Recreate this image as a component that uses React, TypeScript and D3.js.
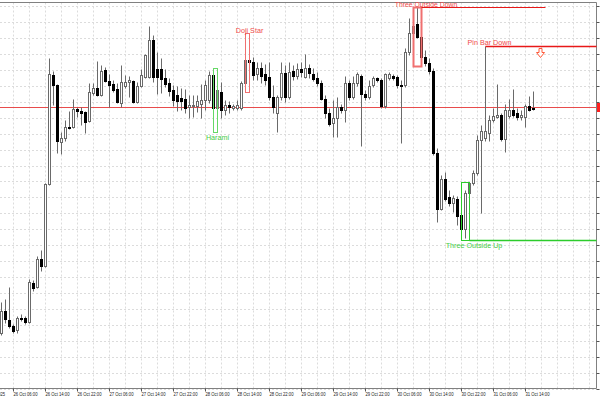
import React from "react";
import * as d3 from "d3";

// ---- data (H1 candles, 26 Oct 03:00 .. 31 Oct 16:00) ----
const opens = [67,89,80,74,70,82,82,78,117,113,
141,134,216,325,315,258,262,273,273,291,
289,288,279,307,312,305,330,319,316,311,
297,314,318,319,298,314,323,323,360,331,
331,322,317,310,305,302,301,293,294,294,
296,300,300,325,292,308,290,294.5,292,292,
292,317,340,338,326,332,326,323,303,287,
303,327,303,329,324,331,323,332,326,322,
317,301,287,277,282,293,290,317,303,317,
324,306,303,315,322,320,294,322,324,323,
315,315,348,367,376,363,343,337,329,247,
191,221,203,197,201,185,171,207,217,227,
260,262,267,280,283,285,261,284,290,287,
283,283,294,292];
const highs = [98,101,113,76,84,86,84,121,120,144,
150,217,342,329,316,268,280,289,301,293,
293,289,317,317,339,335,333,326,320,317,
335,325,324,320,318,331,346,374,365,348,
342,331,322,315,314,312,311,305,305,305,
316,320,329,332,318,318,300,299,296,300,
319,348,367,343,338,338,336,338,315,305,
338,335,338,335,337,338,346,336,332,328,
320,305,292,300,303,296,324,320,324,328,
326,310,320,324,323,322,327,328,326,325,
320,352,382,382,393,365,350,342,332,252,
225,228,210,205,204,195,210,218,230,265,
275,354,285,292,316,287,296,301,311,292,
290,296,304,309];
const lows = [65,77,72,67,67,79,76,77,109,112,
129,133,215,295,247,246,259,271,272,283,
275,267,278,305,304,304,318,293,308,297,
293,312,303,297,297,313,322,322,318,306,
307,313,304,294,289,290,287,282,283,288,
282,290,297,290,268,282,285,287,290,290,
290,308,334,320,320,317,315,300,287,268,
300,298,301,320,321,323,322,322,319,314,
300,282,274,263,263,287,278,300,301,314,
254,300,301,313,318,292,292,320,320,312,
257,313,345,365,362,334,334,326,245,178,
190,199,194,188,175,160,162,205,215,225,
187,259,259,278,282,259,248,282,283,280,
280,273,289,290];
const closes = [89,81,74,69,82,81,78,118,112,141,
134,216,326,315,259,262,273,272,291,289,
287,278,308,312,305,329,319,315,310,298,
318,318,320,298,314,325,345,360,323,323,
321,316,309,300,299,299.5,292,295,295,299,
300,315,325,292,310,290,295,293,294,295,
317,340,338,325,332,324,320,303,293,303,
327,303,328,324,331,328,332,327,321,317,
301,287,276,282,293,290,317,303,317,326,
306,303,314,322,320,294,326,326,322,315,
314,348,367,374,363,343,337,329,247,191,
221,201,197,202,184,171,207,217,227,260,
269,269,280,284,285,261,290,290,285,283,
285,294,290,291.5];

const timeLabels = [
  "26 Oct 06:00","26 Oct 14:00","26 Oct 22:00","27 Oct 06:00","27 Oct 14:00",
  "27 Oct 22:00","28 Oct 06:00","28 Oct 14:00","28 Oct 22:00","29 Oct 06:00",
  "29 Oct 14:00","29 Oct 22:00","30 Oct 06:00","30 Oct 14:00","30 Oct 22:00",
  "31 Oct 06:00","31 Oct 14:00"];
const firstLabel = "26 Oct 2025";
const bidPrice = 293;

const patternNames = ["Harami", "Doji Star", "Three Outside Down", "Three Outside Up"];
const patternStart = [53, 61, 103, 115];
const patternEnd = [54, 62, 105, 117];
const patternBull = [true, false, false, true];
const pinBarName = "Pin Bar Down";
const pinBarIndex = 121;

const W = 600, H = 400;
const RIGHT = 596.5, TOP = 2.5, BOTTOM = 388.5;

export default function App() {
  const n = opens.length;
  const x = d3.scaleLinear().domain([0, 133]).range([1.5, 533.5]);
  const y = d3.scaleLinear().domain([12, 398]).range([388, 2]);
  const py = (v: number) => Math.round(y(v)) + 0.5;

  const priceTicks = d3.range(394, 10, -15.95);
  const gridIdx = d3.range(3, 150, 4).filter((i) => x(i) < RIGHT);
  const labelIdx = timeLabels.map((_, k) => 3 + 8 * k);

  const wick = "#6a6a6a";
  const red = "#e81818";
  const redLight = "#f07070";
  const green = "#2ccc2c";
  const greenLight = "#66d866";
  const font = "'Liberation Sans', Arial, sans-serif";

  const pats = patternNames.map((name, k) => {
    const s = patternStart[k], e = patternEnd[k];
    const hi = d3.max(d3.range(s, e + 1), (i) => highs[i]) as number;
    const lo = d3.min(d3.range(s, e + 1), (i) => lows[i]) as number;
    return { name, s, e, hi, lo, bull: patternBull[k] };
  });

  return (
    <svg width={W} height={H} style={{ position: "absolute", left: 0, top: 0, background: "#fff" }}
      fontFamily={font}>
      <rect x={0} y={0} width={W} height={H} fill="#fff" />
      {/* grid */}
      {priceTicks.map((v, k) => (
        <line key={"hg" + k} x1={0} x2={RIGHT} y1={py(v)} y2={py(v)} stroke="#dcdcdc" strokeDasharray="2,2" />
      ))}
      {gridIdx.map((i) => (
        <line key={"vg" + i} x1={Math.floor(x(i)) + 0.5} x2={Math.floor(x(i)) + 0.5} y1={TOP} y2={BOTTOM}
          stroke="#dcdcdc" strokeDasharray="2,2" />
      ))}
      {/* bid line */}
      <line x1={0} x2={RIGHT} y1={py(bidPrice)} y2={py(bidPrice)} stroke="#e84c4c" />

      {/* frame */}
      <line x1={0} x2={RIGHT} y1={TOP} y2={TOP} stroke="#808080" />
      <line x1={0} x2={RIGHT} y1={BOTTOM} y2={BOTTOM} stroke="#808080" />
      <line x1={RIGHT} x2={RIGHT} y1={TOP} y2={BOTTOM} stroke="#808080" />

      {/* candles */}
      {d3.range(n).map((i) => {
        const cx = Math.floor(x(i)) + 0.5;
        const o = opens[i], c = closes[i];
        const yh = py(highs[i]), yl = py(lows[i]);
        const top = py(Math.max(o, c)), bot = py(Math.min(o, c));
        const bull = c >= o;
        return (
          <g key={"c" + i}>
            <line x1={cx} x2={cx} y1={yh} y2={yl} stroke={wick} />
            {bull ? (
              <rect x={cx - 1} y={top} width={2} height={Math.max(bot - top, 0)} fill="#fff" stroke={wick} />
            ) : (
              <rect x={cx - 1.5} y={top - 0.5} width={3} height={Math.max(bot - top, 0) + 1} fill="#000" />
            )}
          </g>
        );
      })}

      {/* pattern boxes and labels */}
      {pats.map((p, k) => {
        const x0 = Math.floor(x(p.s)) + 0.5, x1 = Math.floor(x(p.e)) + 0.5;
        const yt = py(p.hi), yb = py(p.lo);
        const three = p.e - p.s >= 2;
        const boxCol = p.bull ? greenLight : redLight;
        const tx = x1 + (three ? 4.5 : 0);
        return (
          <g key={"p" + k}>
            <rect x={x0} y={yt} width={x1 - x0} height={yb - yt} fill="none" stroke={three ? (p.bull ? green : redLight) : boxCol}
              strokeWidth={three && !p.bull ? 2 : 1} />
            {three && !p.bull && (
              <line x1={x1} x2={x(136)} y1={yt} y2={yt} stroke={red} />
            )}
            {three && p.bull && (
              <line x1={x1} x2={RIGHT} y1={yb} y2={yb} stroke={green} strokeWidth={1.5} />
            )}
            <text x={tx} y={p.bull ? yb + 7 : Math.max(yt - 1, 7)} textAnchor="middle" fontSize={three && !p.bull ? 6.8 : 7.2}
              fill={p.bull ? "#44cc44" : "#f04a4a"}>{p.name}</text>
          </g>
        );
      })}

      {/* pin bar */}
      {(() => {
        const px = Math.floor(x(pinBarIndex)) + 0.5;
        const yy = py(highs[pinBarIndex]);
        const ax = px + 55;
        return (
          <g>
            <line x1={px} x2={RIGHT} y1={yy} y2={yy} stroke={red} strokeWidth={1.5} />
            <text x={px + 4} y={yy - 1.5} textAnchor="middle" fontSize={7.2} fill="#f04a4a">{pinBarName}</text>
            <path d={`M${ax - 1.5},${yy + 2} L${ax + 1.5},${yy + 2} L${ax + 1.5},${yy + 6} L${ax + 4},${yy + 6} L${ax},${yy + 11} L${ax - 4},${yy + 6} L${ax - 1.5},${yy + 6} Z`}
              fill="#fff" stroke="#ff5a3a" strokeWidth={1} />
          </g>
        );
      })()}

      {/* right axis ticks; the price labels lie past the window edge as in the screenshot */}
      {priceTicks.map((v, k) => (
        <g key={"rt" + k}>
          <line x1={RIGHT} x2={RIGHT + 3} y1={py(v)} y2={py(v)} stroke="#555" />
          <text x={RIGHT + 5} y={py(v) + 2} fontSize={7} fill="#000">{v.toFixed(0)}</text>
        </g>
      ))}
      <rect x={597} y={py(bidPrice) - 4.5} width={4} height={9} fill="#ff2020" />

      {/* time axis */}
      {labelIdx.map((i, k) => {
        const gx = Math.floor(x(i)) + 0.5;
        return (
          <g key={"tl" + k}>
            <line x1={gx} x2={gx} y1={BOTTOM} y2={BOTTOM + 3} stroke="#555" />
            <text x={gx} y={396} fontSize={5.2} fill="#222" textLength={24} lengthAdjust="spacingAndGlyphs">
              {timeLabels[k]}
            </text>
          </g>
        );
      })}
      <text x={-17} y={396} fontSize={5.2} fill="#222" textLength={22} lengthAdjust="spacingAndGlyphs">{firstLabel}</text>
    </svg>
  );
}
